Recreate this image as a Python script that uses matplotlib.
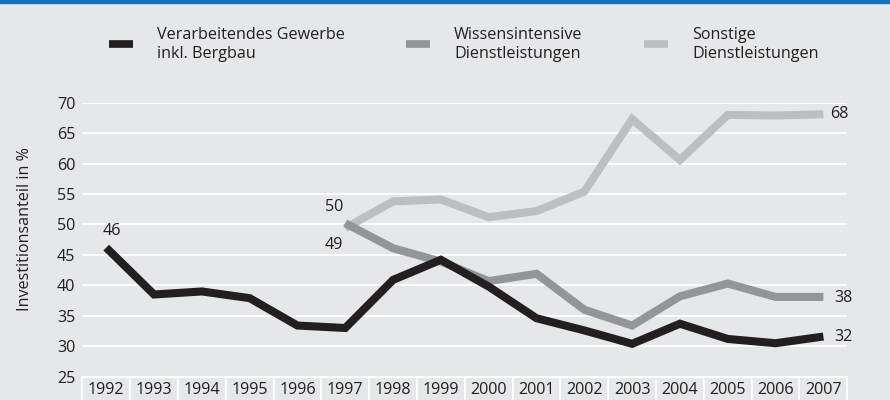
import matplotlib
matplotlib.use("Agg")
from matplotlib import pyplot as plt
from matplotlib.lines import Line2D
from matplotlib.patches import Rectangle
import numpy as np

plt.rcParams['font.family'] = ['Open Sans', 'DejaVu Sans']

years = list(range(1992, 2008))
verarbeitend = [46.2, 38.5, 39.0, 37.9, 33.4, 33.0, 40.9, 44.2, 39.8, 34.6, 32.6, 30.4, 33.7, 31.2, 30.5, 31.6]
wiss_years = list(range(1997, 2008))
wissen = [50.2, 46.1, 43.9, 40.7, 41.9, 36.0, 33.4, 38.2, 40.3, 38.1, 38.1]
sonst = [49.4, 53.8, 54.1, 51.2, 52.2, 55.4, 67.3, 60.6, 68.0, 67.9, 68.1]

labels = ["Verarbeitendes Gewerbe\ninkl. Bergbau",
          "Wissensintensive\nDienstleistungen",
          "Sonstige\nDienstleistungen"]
colors = ["#231f20", "#939598", "#bcbec0"]
bg = "#e6e7e8"
txt = "#231f20"
fs = 11.6

fig = plt.figure(figsize=(8.9, 4), dpi=100, facecolor=bg)
ax = fig.add_axes([82.3 / 890, 1 - 376.7 / 400, 765 / 890, 274 / 400])
ax.set_facecolor(bg)

lw = 5.8
ax.plot(wiss_years, sonst, color=colors[2], lw=lw, solid_capstyle='butt', solid_joinstyle='miter', clip_on=False, zorder=3)
ax.plot(wiss_years, wissen, color=colors[1], lw=lw, solid_capstyle='butt', solid_joinstyle='miter', clip_on=False, zorder=4)
ax.plot(years, verarbeitend, color=colors[0], lw=lw, solid_capstyle='butt', solid_joinstyle='miter', clip_on=False, zorder=5)

ax.set_xlim(1991.5, 2007.5)
ax.set_ylim(25, 70)
ax.set_yticks(range(25, 71, 5))
ax.set_xticks(years)
ax.set_xticks(np.arange(1991.5, 2008, 1), minor=True)
ax.grid(axis='y', color='white', lw=1.3, zorder=1)
for s in ax.spines.values():
    s.set_visible(False)
ax.tick_params(axis='y', length=0, pad=5, labelsize=fs, labelcolor=txt)
ax.tick_params(axis='x', which='major', length=0, pad=4, labelsize=fs, labelcolor=txt)
ax.tick_params(axis='x', which='minor', length=30, width=1.3, color='white', direction='out')
ax.axhline(25, color='white', lw=1.6, zorder=2, clip_on=False)

# value labels
ax.annotate(f"{verarbeitend[0]:.0f}", (years[0], verarbeitend[0]), xytext=(4, 12), textcoords='offset points',
            ha='center', va='center', fontsize=fs, color=txt)
ax.annotate(f"{wissen[0]:.0f}", (wiss_years[0], wissen[0]), xytext=(-8, 12), textcoords='offset points',
            ha='center', va='center', fontsize=fs, color=txt)
ax.annotate(f"{sonst[0]:.0f}", (wiss_years[0], sonst[0]), xytext=(-8, -12), textcoords='offset points',
            ha='center', va='center', fontsize=fs, color=txt)
ax.annotate(f"{sonst[-1]:.0f}", (years[-1], sonst[-1]), xytext=(5, 0), textcoords='offset points',
            ha='left', va='center', fontsize=fs, color=txt)
ax.annotate(f"{wissen[-1]:.0f}", (years[-1], wissen[-1]), xytext=(8, -1), textcoords='offset points',
            ha='left', va='center', fontsize=fs, color=txt)
ax.annotate(f"{verarbeitend[-1]:.0f}", (years[-1], verarbeitend[-1]), xytext=(8, 0), textcoords='offset points',
            ha='left', va='center', fontsize=fs, color=txt)

fig.text(25 / 890, 1 - 229 / 400, "Investitionsanteil in %", rotation=90, ha='center', va='center',
         fontsize=fs, color=txt)

# legend
leg_x = [109, 406, 644]
for x0, lab, c in zip(leg_x, labels, colors):
    fig.add_artist(Line2D([x0 / 890, (x0 + 24) / 890], [1 - 44.3 / 400] * 2, color=c, lw=5.5,
                          solid_capstyle='butt', transform=fig.transFigure))
    fig.text((x0 + 48) / 890, 1 - 44.5 / 400, lab, ha='left', va='center', fontsize=fs, color=txt,
             linespacing=1.2)

# blue top band
fig.add_artist(Rectangle((0, 1 - 3 / 400), 1, 3 / 400, color='#1173bb', transform=fig.transFigure))

fig.savefig("out.png", dpi=100, facecolor=bg)
